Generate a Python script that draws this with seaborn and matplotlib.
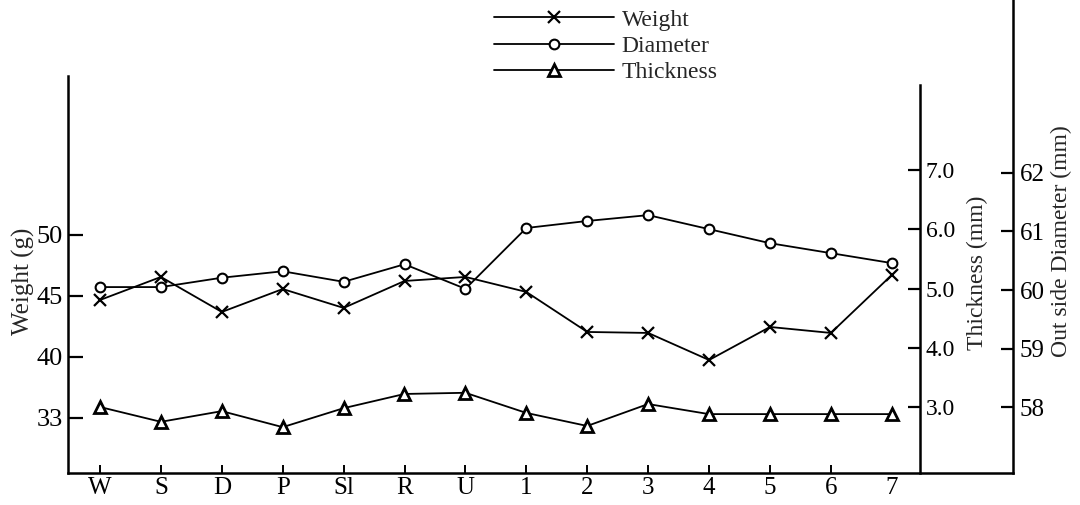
import matplotlib
matplotlib.use('Agg')
import matplotlib.pyplot as plt
import seaborn as sns
import pandas as pd

categories = ['W', 'S', 'D', 'P', 'Sl', 'R', 'U', '1', '2', '3', '4', '5', '6', '7']
weight = [44.67, 46.56, 43.69, 45.57, 44.02, 46.23, 46.56, 45.33, 42.05, 41.97, 39.75, 42.46, 41.97, 46.72]
diameter = [60.05, 60.05, 60.21, 60.32, 60.14, 60.44, 60.02, 61.06, 61.18, 61.28, 61.04, 60.80, 60.63, 60.46]
thickness = [3.00, 2.75, 2.93, 2.66, 2.98, 3.22, 3.24, 2.90, 2.68, 3.05, 2.88, 2.88, 2.88, 2.88]

weight_ticks = [35, 40, 45, 50]
weight_tick_labels = ['33', '40', '45', '50']
thickness_ticks = [3, 4, 5, 6, 7]
thickness_tick_labels = ['3.0', '4.0', '5.0', '6.0', '7.0']
diameter_ticks = [58, 59, 60, 61, 62]
diameter_tick_labels = ['58', '59', '60', '61', '62']
series_names = ['Weight', 'Diameter', 'Thickness']

df = pd.DataFrame({'cat': categories, 'weight': weight,
                   'diameter': diameter, 'thickness': thickness})

sns.set_style('white')
plt.rcParams['font.family'] = ['Liberation Serif', 'DejaVu Serif']

W, H = 1080, 505
fig = plt.figure(figsize=(W / 100, H / 100), dpi=100)


def rect(l, r, b, t):
    return [l / W, 1 - b / H, (r - l) / W, (b - t) / H]


ax_d = fig.add_axes(rect(68, 1013, 473, 0))
ax_t = fig.add_axes(rect(68, 920, 473, 85))
ax_w = fig.add_axes(rect(68, 1013, 473, 76))
for a in (ax_d, ax_t, ax_w):
    a.set_facecolor('none')

lw = 1.3
sns.lineplot(data=df, x='cat', y='diameter', ax=ax_d, sort=False, color='black',
             lw=lw, marker='o', markersize=7, markerfacecolor='white',
             markeredgecolor='black', markeredgewidth=1.5)
sns.lineplot(data=df, x='cat', y='thickness', ax=ax_t, sort=False, color='black',
             lw=lw, marker='^', markersize=9, markerfacecolor='white',
             markeredgecolor='black', markeredgewidth=2)
sns.lineplot(data=df, x='cat', y='weight', ax=ax_w, sort=False, color='black',
             lw=lw, marker='x', markersize=9, markeredgecolor='black',
             markeredgewidth=1.6)

# x limits (same mapping for all)
x0 = -0.5255
ax_w.set_xlim(x0, 14.99)
ax_d.set_xlim(x0, 14.99)
ax_t.set_xlim(x0, 13.465)

ax_w.set_ylim(30.49, 63.03)
ax_t.set_ylim(1.886, 8.435)
ax_d.set_ylim(56.872, 64.957)

# main axis
for s in ('top', 'right'):
    ax_w.spines[s].set_visible(False)
for s in ('left', 'bottom'):
    ax_w.spines[s].set_linewidth(1.8)
    ax_w.spines[s].set_color('black')
ax_w.set_yticks(weight_ticks)
ax_w.set_yticklabels(weight_tick_labels)
ax_w.set_xticks(range(len(categories)))
ax_w.set_xticklabels(categories)
ax_w.tick_params(axis='y', direction='in', length=11, width=1.6, labelsize=19, pad=4,
                 left=True, colors='black')
ax_w.tick_params(axis='x', direction='in', length=6, width=1.4, labelsize=18, pad=3,
                 bottom=True, colors='black')
ax_w.xaxis.get_major_ticks()[-1].tick1line.set_visible(False)
ax_w.set_xlabel('')
ax_w.set_ylabel('Weight (g)', fontsize=18)
ax_w.yaxis.set_label_coords(-0.035, 0.484)

# thickness axis
for s in ('top', 'left', 'bottom'):
    ax_t.spines[s].set_visible(False)
ax_t.spines['right'].set_linewidth(1.8)
ax_t.spines['right'].set_color('black')
ax_t.xaxis.set_visible(False)
ax_t.yaxis.tick_right()
ax_t.yaxis.set_label_position('right')
ax_t.set_yticks(thickness_ticks)
ax_t.set_yticklabels(thickness_tick_labels)
ax_t.tick_params(axis='y', direction='in', length=9, width=1.6, labelsize=17, pad=4,
                 right=True, left=False, colors='black')
ax_t.set_ylabel('Thickness (mm)', fontsize=17)
ax_t.yaxis.set_label_coords(1.055, 0.515)

# diameter axis
for s in ('top', 'left', 'bottom'):
    ax_d.spines[s].set_visible(False)
ax_d.spines['right'].set_linewidth(1.8)
ax_d.spines['right'].set_color('black')
ax_d.xaxis.set_visible(False)
ax_d.yaxis.tick_right()
ax_d.yaxis.set_label_position('right')
ax_d.set_yticks(diameter_ticks)
ax_d.set_yticklabels(diameter_tick_labels)
ax_d.tick_params(axis='y', direction='in', length=9, width=1.6, labelsize=18, pad=5,
                 right=True, left=False, colors='black')
ax_d.set_ylabel('Out side Diameter (mm)', fontsize=17)
ax_d.yaxis.set_label_coords(1.040, 0.49)

handles = [ax_w.lines[0], ax_d.lines[0], ax_t.lines[0]]
fig.legend(handles, series_names, loc='upper left', frameon=False,
           bbox_to_anchor=(494 / W, 1 - 9 / H), borderpad=0, borderaxespad=0,
           handlelength=5.1, handletextpad=0.3, labelspacing=0.2,
           fontsize=17, numpoints=1)

fig.savefig('out.png', dpi=100)
